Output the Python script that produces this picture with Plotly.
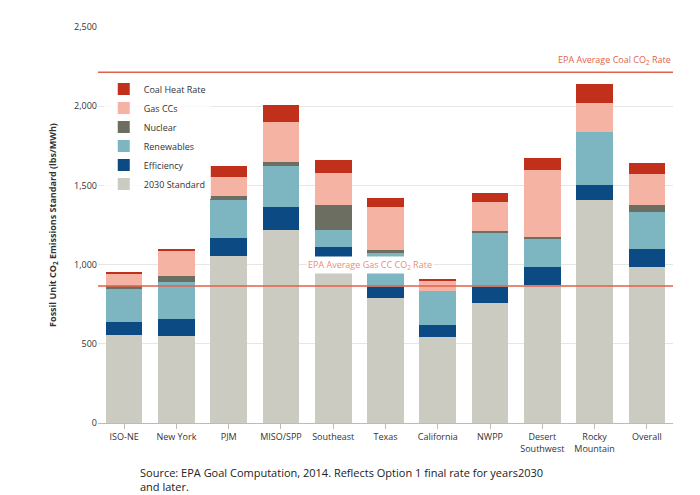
import plotly.graph_objects as go

regions = ["ISO-NE", "New York", "PJM", "MISO/SPP", "Southeast", "Texas", "California",
           "NWPP", "Desert<br>Southwest", "Rocky<br>Mountain", "Overall"]
standard = [555, 550, 1055, 1220, 1040, 790, 540, 760, 870, 1410, 985]
efficiency = [80, 105, 110, 145, 70, 70, 80, 100, 115, 90, 115]
renewables = [210, 235, 240, 255, 110, 215, 215, 340, 175, 340, 230]
nuclear = [20, 35, 30, 25, 155, 15, 0, 10, 15, 0, 45]
gas_ccs = [80, 165, 115, 255, 205, 275, 65, 185, 425, 180, 195]
coal_heat = [10, 10, 70, 105, 80, 55, 5, 55, 75, 120, 70]
coal_line = 2215
gas_line = 865

series = [("2030 Standard", standard, "#CBCBC1"), ("Efficiency", efficiency, "#0B4A82"),
          ("Renewables", renewables, "#7DB6C0"), ("Nuclear", nuclear, "#6D6E62"),
          ("Gas CCs", gas_ccs, "#F5B3A4"), ("Coal Heat Rate", coal_heat, "#C1301A")]

fig = go.Figure()
for name, vals, col in series:
    fig.add_bar(x=regions, y=vals, name=name, marker_color=col, marker_line_width=0)

fig.add_hline(y=coal_line, line_color="#E0624A", line_width=1.5)
fig.add_hline(y=gas_line, line_color="#E0624A", line_width=1.5)
fig.add_annotation(x=1, xref="paper", y=coal_line, yshift=12, xanchor="right", showarrow=False,
                   text="EPA Average Coal CO<sub>2</sub> Rate", font=dict(color="#E0624A", size=9))
fig.add_annotation(x=4.7, y=1000, showarrow=False, bgcolor="white",
                   text="EPA Average Gas CC CO<sub>2</sub> Rate", font=dict(color="#F08A78", size=9))
fig.add_annotation(x=0.07, xref="paper", y=-0.1, yref="paper", xanchor="left", yanchor="top",
                   showarrow=False, align="left",
                   text="Source: EPA Goal Computation, 2014. Reflects Option 1 final rate for years2030<br>and later.",
                   font=dict(size=11, color="#222"))

fig.update_layout(
    barmode="stack", bargap=0.3, width=700, height=495, plot_bgcolor="white", paper_bgcolor="white",
    margin=dict(l=90, r=35, t=12, b=80), font=dict(family="Open Sans", size=9, color="#333"),
    legend=dict(x=0.01, y=0.88, xanchor="left", yanchor="top", traceorder="reversed",
                font=dict(size=9), bgcolor="rgba(255,255,255,0.8)", itemsizing="constant",
                tracegroupgap=0),
    yaxis=dict(range=[0, 2500], dtick=500, tickformat=",", gridcolor="#E6E6E6", zeroline=False,
               title=dict(text="Fossil Unit CO<sub>2</sub> Emissions Standard (lbs/MWh)", font=dict(size=9, weight="bold"))),
    xaxis=dict(showline=True, linecolor="#BBBBBB", ticks="outside", tickcolor="#BBBBBB", tickfont=dict(size=9)),
)
fig.write_html("out.html")
